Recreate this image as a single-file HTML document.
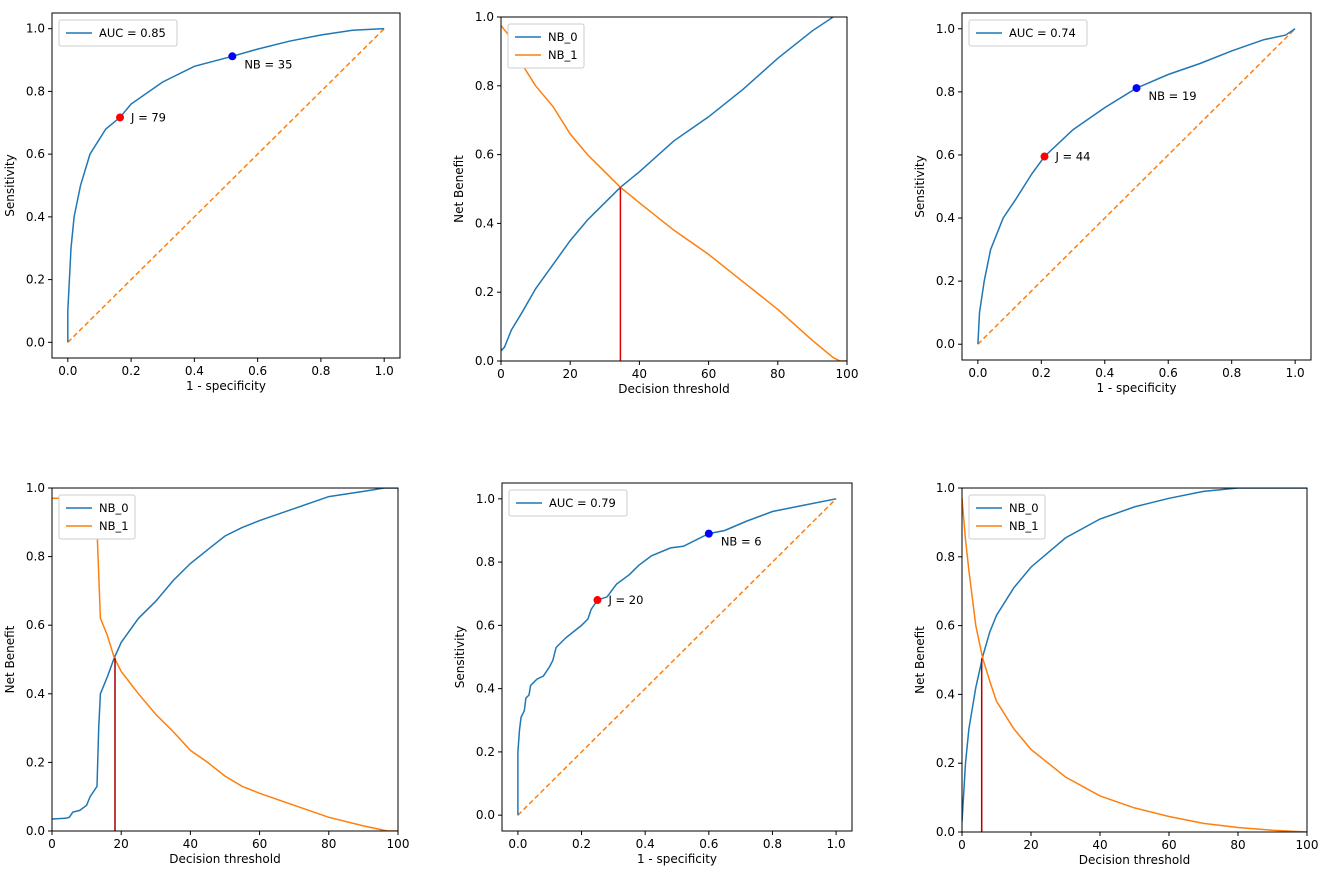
<!DOCTYPE html>
<html><head><meta charset="utf-8"><style>
html,body{margin:0;padding:0;background:#fff;}
svg{display:block;font-family:"DejaVu Sans","Liberation Sans",sans-serif;}
</style></head><body>
<svg id="fig" width="1325" height="878" viewBox="0 0 1325 878"></svg>
<script>
// Panel 1 ROC
const roc1Fpr=[0,0,0.005,0.01,0.02,0.04,0.07,0.12,0.165,0.2,0.3,0.4,0.52,0.6,0.7,0.8,0.9,1];
const roc1Tpr=[0,0.1,0.2,0.3,0.4,0.5,0.6,0.68,0.717,0.76,0.83,0.88,0.912,0.935,0.96,0.98,0.995,1];
const roc1J=[0.165,0.717], roc1NB=[0.52,0.912];
// Panel 3 ROC
const roc3Fpr=[0,0.005,0.02,0.04,0.08,0.12,0.17,0.21,0.3,0.4,0.5,0.6,0.7,0.8,0.9,0.97,1];
const roc3Tpr=[0,0.1,0.2,0.3,0.4,0.46,0.54,0.595,0.68,0.75,0.812,0.855,0.89,0.93,0.965,0.98,1];
const roc3J=[0.21,0.595], roc3NB=[0.5,0.812];
// Panel 5 ROC
const roc5Fpr=[0,0,0.005,0.01,0.02,0.025,0.035,0.04,0.06,0.08,0.1,0.11,0.12,0.15,0.2,0.22,0.23,0.25,0.28,0.31,0.35,0.38,0.42,0.48,0.52,0.6,0.65,0.72,0.8,0.9,1];
const roc5Tpr=[0,0.2,0.27,0.31,0.33,0.37,0.38,0.41,0.43,0.44,0.47,0.49,0.53,0.56,0.6,0.62,0.65,0.68,0.69,0.73,0.76,0.79,0.82,0.845,0.85,0.89,0.9,0.93,0.96,0.98,1];
const roc5J=[0.25,0.68], roc5NB=[0.6,0.89];
// Panel 2 DCA
const dca2X0=[0,1,3,6,10,15,20,25,30,34.5,40,50,60,70,80,90,96,100];
const dca2Y0=[0.03,0.04,0.09,0.14,0.21,0.28,0.35,0.41,0.46,0.505,0.55,0.64,0.71,0.79,0.88,0.96,1.0,1.05];
const dca2X1=[0,2,5,10,15,20,25,30,34.5,40,50,60,70,80,90,96,98,100];
const dca2Y1=[0.975,0.95,0.88,0.8,0.74,0.66,0.6,0.55,0.505,0.46,0.38,0.31,0.23,0.15,0.06,0.01,0,0];
const dca2Cut=[34.5,0.505];
// Panel 4 DCA
const dca4X0=[0,4,5,6,8,10,11,13,13.5,14,16,18,20,25,30,35,40,45,50,55,60,70,80,90,96,100];
const dca4Y0=[0.035,0.037,0.04,0.055,0.06,0.075,0.1,0.13,0.3,0.4,0.45,0.505,0.55,0.62,0.67,0.73,0.78,0.82,0.86,0.885,0.905,0.94,0.975,0.99,1,1];
const dca4X1=[0,5,8,11,13,13.5,14,16,18,20,25,30,35,40,45,50,55,60,70,80,90,97,100];
const dca4Y1=[0.97,0.97,0.95,0.93,0.88,0.75,0.62,0.57,0.505,0.465,0.4,0.34,0.29,0.235,0.2,0.16,0.13,0.11,0.075,0.04,0.015,0,0];
const dca4Cut=[18.2,0.505];
// Panel 6 DCA
const dca6X0=[0,1,2,4,6,8,10,15,20,30,40,50,60,70,80,100];
const dca6Y0=[0.03,0.2,0.3,0.42,0.51,0.58,0.63,0.71,0.77,0.855,0.91,0.945,0.97,0.99,1,1];
const dca6X1=[0,1,2,4,6,8,10,15,20,30,40,50,60,70,80,90,100];
const dca6Y1=[0.97,0.85,0.76,0.6,0.505,0.44,0.38,0.3,0.24,0.16,0.105,0.07,0.045,0.025,0.013,0.005,0];
const dca6Cut=[5.7,0.505];
const rocTicks=["0.0","0.2","0.4","0.6","0.8","1.0"];
const dcaXTicks=["0","20","40","60","80","100"];
const dcaYTicks=["0.0","0.2","0.4","0.6","0.8","1.0"];

const NS="http://www.w3.org/2000/svg";
const svg=document.getElementById('fig');
function el(tag,attrs,parent,text){const e=document.createElementNS(NS,tag);for(const k in attrs)e.setAttribute(k,attrs[k]);if(text!==undefined)e.textContent=text;(parent||svg).appendChild(e);return e;}
const BLUE="#1f77b4",ORANGE="#ff7f0e";

function axes(p,box,xmin,xmax,ymin,ymax){
  const [L,T,R,B]=box;
  const sx=v=>L+(v-xmin)/(xmax-xmin)*(R-L);
  const sy=v=>B-(v-ymin)/(ymax-ymin)*(B-T);
  return {sx,sy};
}
function frame(g,box,sx,sy,xt,yt,xlab,ylab,pid){
  const [L,T,R,B]=box;
  xt.forEach(t=>{const x=sx(parseFloat(t));
    el('line',{x1:x,y1:B,x2:x,y2:B+4,stroke:'#000','stroke-width':1},g);
    const tx=el('text',{x:x,y:B+17,'font-size':12,'text-anchor':'middle',fill:'#000'},g,t);
    
    });
  yt.forEach(t=>{const y=sy(parseFloat(t));
    el('line',{x1:L-4,y1:y,x2:L,y2:y,stroke:'#000','stroke-width':1},g);
    const ty=el('text',{x:L-7,y:y+4,'font-size':12,'text-anchor':'end',fill:'#000'},g,t);
    
    });
  const xl=el('text',{x:(L+R)/2,y:B+32,'font-size':12,'text-anchor':'middle'},g,xlab);
  
  
  const yx=L-38, yy=(T+B)/2;
  const yl=el('text',{x:yx,y:yy,'font-size':12,'text-anchor':'middle',transform:`rotate(-90 ${yx} ${yy})`},g,ylab);
  
  
}
function line(g,xs,ys,sx,sy,color,extra,name){
  const d=xs.map((x,i)=>(i?'L':'M')+sx(x).toFixed(1)+','+sy(ys[i]).toFixed(1)).join('');
  const a={d:d,fill:'none',stroke:color,'stroke-width':1.5};for(const k in extra)a[k]=extra[k];
  const p=el('path',a,g);
  
  
  return p;
}
function legend(g,x,y,items){
  const w=items.w,h=items.list.length*18+8;
  const r=el('rect',{x:x,y:y,width:w,height:h,rx:2,fill:'#fff',stroke:'#ccc','stroke-width':1},g);
  
  
  items.list.forEach((it,i)=>{const yy=y+13+i*18;
    el('line',{x1:x+7,y1:yy,x2:x+33,y2:yy,stroke:it[1],'stroke-width':1.5},g);
    const t=el('text',{x:x+40,y:yy+4,'font-size':11.5},g,it[0]);
    
    });
}
function clipRect(box,id){const [L,T,R,B]=box;const c=el('clipPath',{id:id});el('rect',{x:L,y:T,width:R-L,height:B-T},c);return `url(#${id})`;}

function rocPanel(box,fpr,tpr,J,NB,auc,jlab,nblab,pid){
  const g=el('g',{});
  
  
  const {sx,sy}=axes(pid,box,-0.05,1.05,-0.05,1.05);
  line(g,[0,1],[0,1],sx,sy,ORANGE,{'stroke-dasharray':'5,3'},'chance-diagonal');
  line(g,fpr,tpr,sx,sy,BLUE,{},'roc-curve');
  const cj=el('circle',{cx:sx(J[0]),cy:sy(J[1]),r:4,fill:'#ff0000'},g);
  
  
  const cn=el('circle',{cx:sx(NB[0]),cy:sy(NB[1]),r:4,fill:'#0000ff'},g);
  
  
  el('text',{x:sx(J[0])+11,y:sy(J[1])+4,'font-size':11.5},g,jlab);
  el('text',{x:sx(NB[0])+12,y:sy(NB[1])+12,'font-size':11.5},g,nblab);
  frame(g,box,sx,sy,rocTicks,rocTicks,'1 - specificity','Sensitivity',pid);
  el('rect',{x:box[0],y:box[1],width:box[2]-box[0],height:box[3]-box[1],fill:'none',stroke:'#000','stroke-width':1},g);
  legend(g,box[0]+7,box[1]+7,{w:118,list:[[auc,BLUE]]});
}
function dcaPanel(box,x0,y0,x1,y1,cut,cutColor,pid){
  const g=el('g',{});
  
  
  const {sx,sy}=axes(pid,box,0,100,0,1);
  const cp=clipRect(box,pid+'-clip');
  const gc=el('g',{'clip-path':cp},g);
  line(gc,x0,y0,sx,sy,BLUE,{},'nb-0-line');
  line(gc,x1,y1,sx,sy,ORANGE,{},'nb-1-line');
  line(gc,[cut[0],cut[0]],[0,cut[1]],sx,sy,cutColor,{},'threshold-line');
  frame(g,box,sx,sy,dcaXTicks,dcaYTicks,'Decision threshold','Net Benefit',pid);
  el('rect',{x:box[0],y:box[1],width:box[2]-box[0],height:box[3]-box[1],fill:'none',stroke:'#000','stroke-width':1},g);
  legend(g,box[0]+7,box[1]+7,{w:76,list:[['NB_0',BLUE],['NB_1',ORANGE]]});
}
rocPanel([52,13,400,358],roc1Fpr,roc1Tpr,roc1J,roc1NB,'AUC = 0.85','J = 79','NB = 35','roc-panel-1');
dcaPanel([501,17,847,361],dca2X0,dca2Y0,dca2X1,dca2Y1,dca2Cut,'#e00000','dca-panel-2');
rocPanel([962,13,1311,360],roc3Fpr,roc3Tpr,roc3J,roc3NB,'AUC = 0.74','J = 44','NB = 19','roc-panel-3');
dcaPanel([52,488,398,831],dca4X0,dca4Y0,dca4X1,dca4Y1,dca4Cut,'#a00000','dca-panel-4');
rocPanel([502,483,852,831],roc5Fpr,roc5Tpr,roc5J,roc5NB,'AUC = 0.79','J = 20','NB = 6','roc-panel-5');
dcaPanel([962,488,1307,832],dca6X0,dca6Y0,dca6X1,dca6Y1,dca6Cut,'#b00000','dca-panel-6');
</script>
</body></html>
